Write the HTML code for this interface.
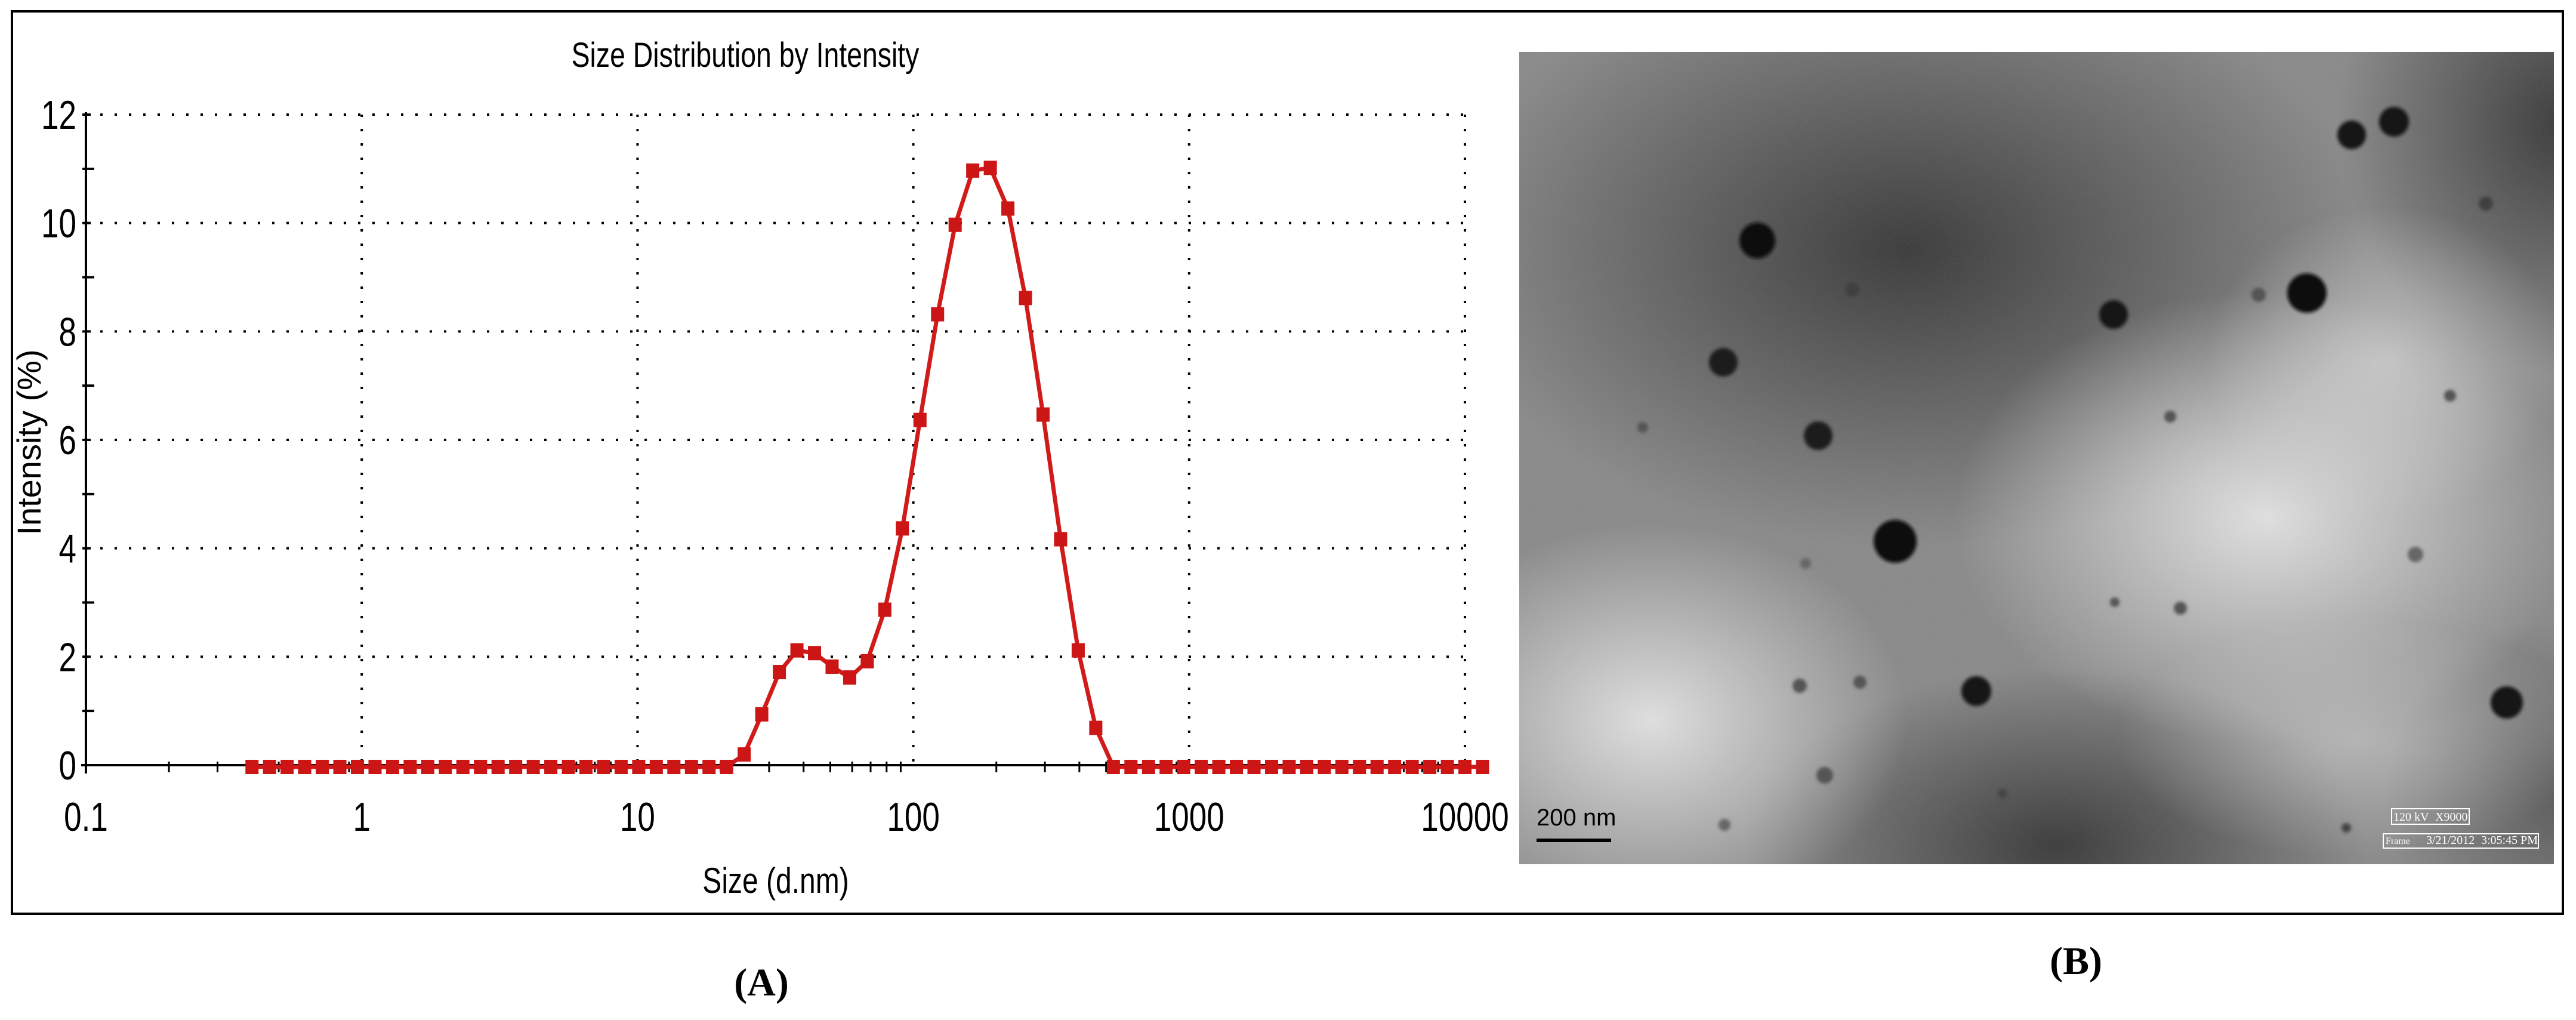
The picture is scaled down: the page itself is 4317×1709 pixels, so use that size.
<!DOCTYPE html>
<html><head><meta charset="utf-8">
<style>
html,body{margin:0;padding:0;background:#fff;}
body{width:4317px;height:1709px;overflow:hidden;position:relative;font-family:"Liberation Sans",sans-serif;}
svg{position:absolute;left:0;top:0;}
</style></head>
<body>
<svg width="4317" height="1709" viewBox="0 0 4317 1709">
<defs>
<radialGradient id="d1" cx="0.5" cy="0.5" r="0.5"><stop offset="0" stop-color="#252525" stop-opacity="0.9"/><stop offset="1" stop-color="#252525" stop-opacity="0"/></radialGradient>
<radialGradient id="l1" cx="0.5" cy="0.5" r="0.5"><stop offset="0" stop-color="#e8e8e8" stop-opacity="0.95"/><stop offset="1" stop-color="#e8e8e8" stop-opacity="0"/></radialGradient>
<filter id="blur"><feGaussianBlur stdDeviation="3"/></filter>
<filter id="noise" x="0" y="0" width="100%" height="100%"><feTurbulence type="fractalNoise" baseFrequency="0.9" numOctaves="1" seed="3"/><feColorMatrix type="matrix" values="0 0 0 0 0.5  0 0 0 0 0.5  0 0 0 0 0.5  0 0 0 0.25 0"/></filter>
</defs>
<rect x="20" y="19" width="4275" height="1512" fill="none" stroke="#000" stroke-width="4"/>
<g id="chart"></g>
<text x="1276" y="1668" font-family="Liberation Serif" font-weight="bold" font-size="66" text-anchor="middle">(A)</text>
<text x="3479" y="1632" font-family="Liberation Serif" font-weight="bold" font-size="66" text-anchor="middle">(B)</text>
<g transform="translate(2546,87)">
<rect x="0" y="0" width="1734" height="1361" fill="#858585"/>
<svg x="0" y="0" width="1734" height="1361" overflow="hidden">
<ellipse cx="650" cy="330" rx="780" ry="500" fill="url(#d1)"/>
<ellipse cx="900" cy="1330" rx="520" ry="300" fill="url(#d1)"/>
<ellipse cx="1750" cy="120" rx="380" ry="420" fill="url(#d1)"/>
<ellipse cx="1750" cy="1250" rx="300" ry="300" fill="url(#d1)" opacity="0.6"/>
<ellipse cx="220" cy="1120" rx="430" ry="330" fill="url(#l1)"/>
<ellipse cx="1250" cy="780" rx="520" ry="380" fill="url(#l1)"/>
<ellipse cx="1450" cy="520" rx="300" ry="260" fill="url(#l1)" opacity="0.6"/>
<ellipse cx="1400" cy="1150" rx="400" ry="200" fill="url(#l1)" opacity="0.5"/>
<rect x="0" y="0" width="1734" height="1361" filter="url(#noise)"/>
</svg>
<g filter="url(#blur)">
<circle cx="399" cy="316" r="30" fill="#111"/>
<circle cx="1395" cy="139" r="24" fill="#151515"/>
<circle cx="1466" cy="117" r="25" fill="#151515"/>
<circle cx="1320" cy="404" r="33" fill="#0c0c0c"/>
<circle cx="996" cy="440" r="24" fill="#151515"/>
<circle cx="342" cy="520" r="24" fill="#1c1c1c"/>
<circle cx="501" cy="643" r="24" fill="#1c1c1c"/>
<circle cx="630" cy="820" r="36" fill="#0c0c0c"/>
<circle cx="766" cy="1071" r="25" fill="#151515"/>
<circle cx="1655" cy="1090" r="27" fill="#151515"/>
<circle cx="1620" cy="254" r="12" fill="#404040"/>
<circle cx="558" cy="398" r="12" fill="#404040"/>
<circle cx="1239" cy="407" r="12" fill="#555"/>
<circle cx="1560" cy="576" r="10" fill="#555"/>
<circle cx="1091" cy="611" r="10" fill="#555"/>
<circle cx="1502" cy="842" r="13" fill="#666"/>
<circle cx="1108" cy="932" r="11" fill="#555"/>
<circle cx="470" cy="1062" r="12" fill="#555"/>
<circle cx="571" cy="1056" r="11" fill="#555"/>
<circle cx="512" cy="1212" r="14" fill="#555"/>
<circle cx="207" cy="629" r="9" fill="#555"/>
<circle cx="480" cy="857" r="9" fill="#666"/>
<circle cx="998" cy="922" r="8" fill="#555"/>
<circle cx="344" cy="1295" r="10" fill="#666"/>
<circle cx="1386" cy="1300" r="8" fill="#444"/>
<circle cx="810" cy="1243" r="8" fill="#444"/>
</g>
<text x="29" y="1296" font-size="40" fill="#000">200 nm</text>
<rect x="29" y="1318" width="125" height="6" fill="#000"/>
<g font-family="Liberation Serif" font-size="20" fill="#fff">
<text x="1465" y="1288">120 kV</text><text x="1535" y="1288">X9000</text>
<text x="1452" y="1327" font-size="16">Frame</text><text x="1520" y="1327">3/21/2012</text><text x="1612" y="1327">3:05:45 PM</text>
<rect x="1448" y="1310" width="260" height="24" fill="none" stroke="#fff" stroke-width="2"/>
<rect x="1462" y="1268" width="130" height="26" fill="none" stroke="#fff" stroke-width="2"/>
</g>
</g>
</svg>
<script>
const sizeStart = 0.4;
const sizeStep = 0.06374;
const intensity = [0,0,0,0,0,0,0,0,0,0,0,0,0,0,0,0,0,0,0,0,0,0,0,0,0,0,0,0,
0.23,0.97,1.75,2.15,2.1,1.85,1.65,1.95,2.9,4.4,6.4,8.35,10.0,11.0,11.05,10.3,8.65,6.5,4.2,2.15,0.72,
0,0,0,0,0,0,0,0,0,0,0,0,0,0,0,0,0,0,0,0,0,0];
const yTicks = [0,2,4,6,8,10,12];
const xTicks = [0.1,1,10,100,1000,10000];
const xTickLabels = ["0.1","1","10","100","1000","10000"];

const NS="http://www.w3.org/2000/svg";
const g=document.getElementById('chart');
const X0=144, X1=2455, Y0=1282, Y12=192;
function xs(v){return X0+(Math.log10(v)+1)/5*(X1-X0);}
function ys(v){return Y0-v/12*(Y0-Y12);}
function mk(tag,attrs,parent){const e=document.createElementNS(NS,tag);for(const k in attrs)e.setAttribute(k,attrs[k]);(parent||g).appendChild(e);return e;}

yTicks.forEach(t=>{ if(t===0)return;
 const l=mk('line',{x1:X0,x2:X1,y1:ys(t),y2:ys(t),stroke:'#000','stroke-width':4,'stroke-dasharray':'4 20'});
 
 
});
xTicks.forEach(t=>{ if(t===0.1)return;
 const l=mk('line',{x1:xs(t),x2:xs(t),y1:Y12,y2:Y0,stroke:'#000','stroke-width':4,'stroke-dasharray':'4 20'});
 
 
});
const ya=mk('line',{x1:X0,x2:X0,y1:Y12-4,y2:Y0+14,stroke:'#000','stroke-width':4});


const xa=mk('line',{x1:X0-8,x2:X1,y1:Y0,y2:Y0,stroke:'#000','stroke-width':4});


for(let v=0;v<=12;v++){
 const l=mk('line',{x1:X0-6,x2:X0+(v%2?14:8),y1:ys(v),y2:ys(v),stroke:'#000','stroke-width':4});
 
 
}
for(let d=-1;d<4;d++){for(let m=2;m<=9;m++){
 const v=m*Math.pow(10,d);
 const l=mk('line',{x1:xs(v),x2:xs(v),y1:Y0-6,y2:Y0+12,stroke:'#000','stroke-width':3});
 
 
}}
yTicks.forEach(t=>{
 const tx=mk('text',{x:0,y:0,'font-size':68,'text-anchor':'end',transform:`translate(${X0-16},${ys(t)+24}) scale(0.78,1)`});
 tx.textContent=String(t);
 
 
});
xTicks.forEach((t,i)=>{
 const tx=mk('text',{x:0,y:0,'font-size':68,'text-anchor':'middle',transform:`translate(${xs(t)},${1392}) scale(0.78,1)`});
 tx.textContent=xTickLabels[i];
 
 
});
const tt=mk('text',{x:0,y:0,'font-size':58,'text-anchor':'middle',transform:'translate(1249,112) scale(0.8,1)'});
tt.textContent='Size Distribution by Intensity';


const xt=mk('text',{x:0,y:0,'font-size':60,'text-anchor':'middle',transform:'translate(1300,1496) scale(0.8,1)'});
xt.textContent='Size (d.nm)';


const yt=mk('text',{x:0,y:0,'font-size':56,'text-anchor':'middle',transform:'translate(68,741) rotate(-90)'});
yt.textContent='Intensity (%)';


const pts=intensity.map((v,i)=>[xs(sizeStart*Math.pow(10,sizeStep*i)),ys(v)+3]);
const pl=mk('polyline',{points:pts.map(p=>p.join(',')).join(' '),fill:'none',stroke:'#d11a1a','stroke-width':7,'stroke-linejoin':'round'});


pts.forEach(p=>{
 const r=mk('rect',{x:p[0]-11,y:p[1]-12,width:22,height:24,fill:'#cc1515'});
 
 
});
</script>
</body></html>
